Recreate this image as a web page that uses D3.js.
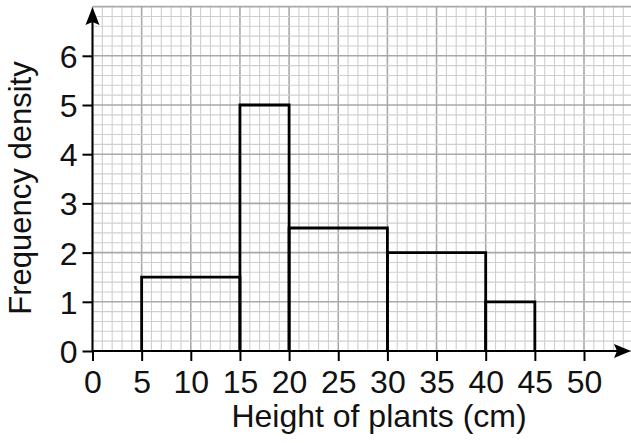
<!DOCTYPE html>
<html>
<head>
<meta charset="utf-8">
<script src="https://cdn.jsdelivr.net/npm/d3@7"></script>
<style>
  body { margin: 0; background: #fff; }
  svg { display: block; font-family: "Liberation Sans", Arial, sans-serif; }
</style>
</head>
<body>
<svg id="chart"></svg>
<script>
// histogram classes: lower bound, upper bound, frequency density
var lower = [5, 15, 20, 30, 40];
var upper = [15, 20, 30, 40, 45];
var density = [1.5, 5, 2.5, 2, 1];
var xTicks = [0, 5, 10, 15, 20, 25, 30, 35, 40, 45, 50];
var yTicks = [0, 1, 2, 3, 4, 5, 6];

var width = 631, height = 443;

var svg = d3.select("#chart")
	.attr("width", width)
	.attr("height", height);

var x = d3.scaleLinear().domain([0, 50]).range([92.5, 584]);
var y = d3.scaleLinear().domain([0, 7]).range([351, 6.6]);

// graph paper
var grid = svg.append("g").attr("class", "grid");
var xMax = 55;
grid.selectAll(".vminor")
	.data(d3.range(0, xMax + 0.01, 1))
	.enter().append("line")
	.attr("x1", function (d) { return x(d); })
	.attr("x2", function (d) { return x(d); })
	.attr("y1", y(0))
	.attr("y2", y(7))
	.style("stroke", function (d) { return d % 5 == 0 ? "#a9a9a9" : "#cfcfcf"; })
	.style("stroke-width", function (d) { return d % 5 == 0 ? 1.6 : 1.1; });

grid.selectAll(".hminor")
	.data(d3.range(0, 35.5, 1))
	.enter().append("line")
	.attr("x1", x(0))
	.attr("x2", width)
	.attr("y1", function (d) { return y(d / 5); })
	.attr("y2", function (d) { return y(d / 5); })
	.style("stroke", function (d) { return d % 5 == 0 ? "#a9a9a9" : "#cfcfcf"; })
	.style("stroke-width", function (d) { return d % 5 == 0 ? 1.6 : 1.1; });

// bars
svg.append("g")
	.selectAll("path")
	.data(density)
	.enter().append("path")
	.attr("d", function (d, i) {
		return "M" + x(lower[i]) + "," + y(0) +
			"V" + y(d) + "H" + x(upper[i]) + "V" + y(0);
	})
	.style("fill", "none")
	.style("stroke", "#000")
	.style("stroke-width", 2.8);

// axes
var xAxis = svg.append("g")
	.attr("transform", "translate(0," + y(0) + ")")
	.call(d3.axisBottom(x).tickValues(xTicks).tickFormat(d3.format("d")).tickSize(10).tickPadding(0));
var yAxis = svg.append("g")
	.attr("transform", "translate(" + x(0) + ",0)")
	.call(d3.axisLeft(y).tickValues(yTicks).tickFormat(d3.format("d")).tickSize(10).tickPadding(5));

[xAxis, yAxis].forEach(function (a) {
	a.select(".domain").remove();
	a.selectAll(".tick line").style("stroke", "#000").style("stroke-width", 2);
	a.selectAll(".tick text")
		.style("font-size", "32px")
		.style("font-family", "Liberation Sans, Arial, sans-serif")
		.style("fill", "#111");
});
xAxis.selectAll(".tick text").attr("y", 42).attr("dy", null);
yAxis.selectAll(".tick text").attr("dy", "0.36em");

svg.append("line")
	.attr("x1", x(0)).attr("x2", 618)
	.attr("y1", y(0)).attr("y2", y(0))
	.style("stroke", "#000").style("stroke-width", 2);
svg.append("line")
	.attr("x1", x(0)).attr("x2", x(0))
	.attr("y1", y(0)).attr("y2", 20)
	.style("stroke", "#000").style("stroke-width", 2);

// arrow heads
svg.append("path")
	.attr("d", "M631," + y(0) + "L614," + (y(0) - 7) + "L617," + y(0) + "L614," + (y(0) + 7) + "Z")
	.style("fill", "#000");
svg.append("path")
	.attr("d", "M" + x(0) + ",7L" + (x(0) - 7) + ",25L" + x(0) + ",22L" + (x(0) + 7) + ",25Z")
	.style("fill", "#000");

// titles
svg.append("text")
	.attr("x", 379)
	.attr("y", 427)
	.style("text-anchor", "middle")
	.style("font-size", "32px")
	.style("fill", "#111")
	.text("Height of plants (cm)");

svg.append("text")
	.attr("transform", "translate(31,188) rotate(-90)")
	.style("text-anchor", "middle")
	.style("font-size", "31px")
	.style("fill", "#111")
	.text("Frequency density");
</script>
</body>
</html>
